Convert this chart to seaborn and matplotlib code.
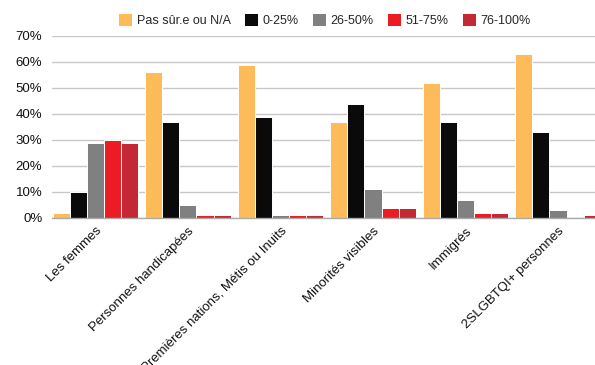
import matplotlib
matplotlib.use("Agg")
import matplotlib.pyplot as plt
import seaborn as sns
import pandas as pd
from matplotlib.ticker import FuncFormatter

categories = [
    "Les femmes",
    "Personnes handicapées",
    "Premières nations, Métis ou Inuits",
    "Minorités visibles",
    "Immigrés",
    "2SLGBTQI+ personnes",
]
series = ["Pas sûr.e ou N/A", "0-25%", "26-50%", "51-75%", "76-100%"]
pas_sur = [2, 56, 59, 37, 52, 63]
p0_25 = [10, 37, 39, 44, 37, 33]
p26_50 = [29, 5, 1, 11, 7, 3]
p51_75 = [30, 1, 1, 4, 2, 0]
p76_100 = [29, 1, 1, 4, 2, 1]
colors = ["#FDBB5A", "#0A0A0A", "#808080", "#EC1C24", "#C42834"]

values = [pas_sur, p0_25, p26_50, p51_75, p76_100]
rows = []
for s, vals in zip(series, values):
    for c, v in zip(categories, vals):
        rows.append({"Catégorie": c, "Série": s, "Valeur": v})
df = pd.DataFrame(rows)

sns.set_style("white")
plt.rcParams["font.family"] = ["Liberation Sans", "DejaVu Sans"]

fig = plt.figure(figsize=(5.95, 3.65), dpi=100)
ax = fig.add_axes([52 / 595, 1 - 218 / 365, 1 - 52 / 595, (218 - 36) / 365])

sns.barplot(
    data=df, x="Catégorie", y="Valeur", hue="Série",
    order=categories, hue_order=series, palette=colors, saturation=1,
    width=0.92, edgecolor="white", linewidth=0.7, ax=ax,
    errorbar=None, legend=True,
)

ax.set_ylim(0, 70)
ax.set_yticks(range(0, 71, 10))
ax.yaxis.set_major_formatter(FuncFormatter(lambda v, p: f"{int(v)}%"))
ax.set_xlim(-0.47, 5.40)
ax.grid(axis="y", color="#C8C8C8", linewidth=1)
ax.set_axisbelow(True)
for side in ["top", "right", "left"]:
    ax.spines[side].set_visible(False)
ax.spines["bottom"].set_color("#AAAAAA")
ax.spines["bottom"].set_linewidth(1)
ax.tick_params(axis="both", length=0, labelsize=9.5, colors="#111111")
ax.tick_params(axis="y", pad=7)
ax.tick_params(axis="x", pad=5)
ax.set_xlabel("")
ax.set_ylabel("")
plt.setp(ax.get_xticklabels(), rotation=45, ha="right", rotation_mode="anchor")

handles, labels = ax.get_legend_handles_labels()
ax.legend_.remove()
fig.legend(
    handles, labels, loc="center", bbox_to_anchor=(0.545, 0.945), ncol=5,
    frameon=False, fontsize=9, handlelength=1.12, handleheight=1.12,
    handletextpad=0.4, columnspacing=1.04,
)

fig.savefig("out.png", dpi=100)
